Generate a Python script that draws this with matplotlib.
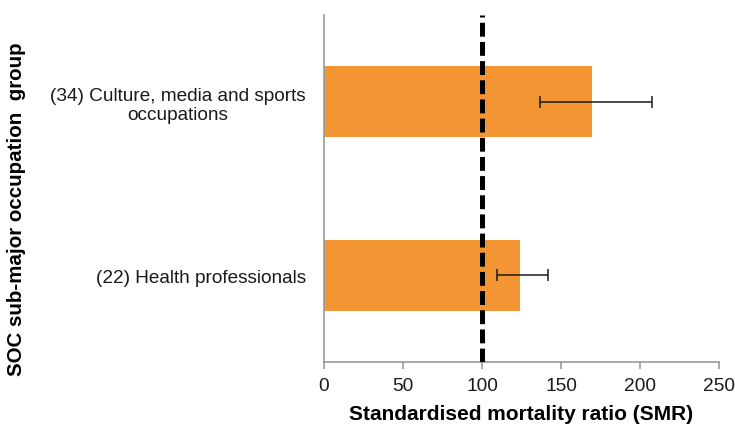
import matplotlib
matplotlib.use('Agg')
import matplotlib.pyplot as plt

# 데이터
groups = ['(22) Health professionals', '(34) Culture, media and sports\noccupations']
smr = [124, 169.5]
ci_low = [109.5, 136.5]
ci_high = [142, 207.5]

plt.rcParams['font.family'] = ['Liberation Sans', 'DejaVu Sans']
plt.rcParams['lines.scale_dashes'] = False

fig = plt.figure(figsize=(7.35, 4.27), dpi=100)
ax = fig.add_axes([0.4404, 0.1499, 0.9787 - 0.4404, 0.9625 - 0.1499])

ypos = list(range(len(groups)))
xerr = [[s - lo for s, lo in zip(smr, ci_low)], [hi - s for s, hi in zip(smr, ci_high)]]
ax.barh(ypos, smr, height=0.41, color='#F39532')
ax.errorbar(smr, ypos, xerr=xerr, fmt='none', ecolor='#1a1a1a', elinewidth=1.1,
            capsize=4, capthick=1.1)

# 기준선 SMR = 100
ax.axvline(100, color='black', linewidth=3.6, dashes=(10, 3.8), zorder=5)

ax.set_xlim(0, 250)
ax.set_ylim(-0.5, 1.5)
ax.set_xticks([0, 50, 100, 150, 200, 250])
ax.set_yticks(ypos)
ax.set_yticklabels(groups, multialignment='center', linespacing=1.15)
ax.tick_params(axis='x', labelsize=13.8, colors='#999999', labelcolor='#1a1a1a',
               length=5, width=1.2, pad=6)
ax.tick_params(axis='y', labelsize=13.7, length=0, pad=13, labelcolor='#1a1a1a')

for side in ['top', 'right']:
    ax.spines[side].set_visible(False)
for side in ['left', 'bottom']:
    ax.spines[side].set_color('#999999')
    ax.spines[side].set_linewidth(1.2)

ax.set_xlabel('Standardised mortality ratio (SMR)', fontsize=15, fontweight='bold', labelpad=7)
fig.text(0.022, 1 - 209 / 427, 'SOC sub-major occupation  group', rotation=90,
         fontsize=14.8, fontweight='bold', ha='center', va='center')

fig.savefig('out.png', dpi=100)
